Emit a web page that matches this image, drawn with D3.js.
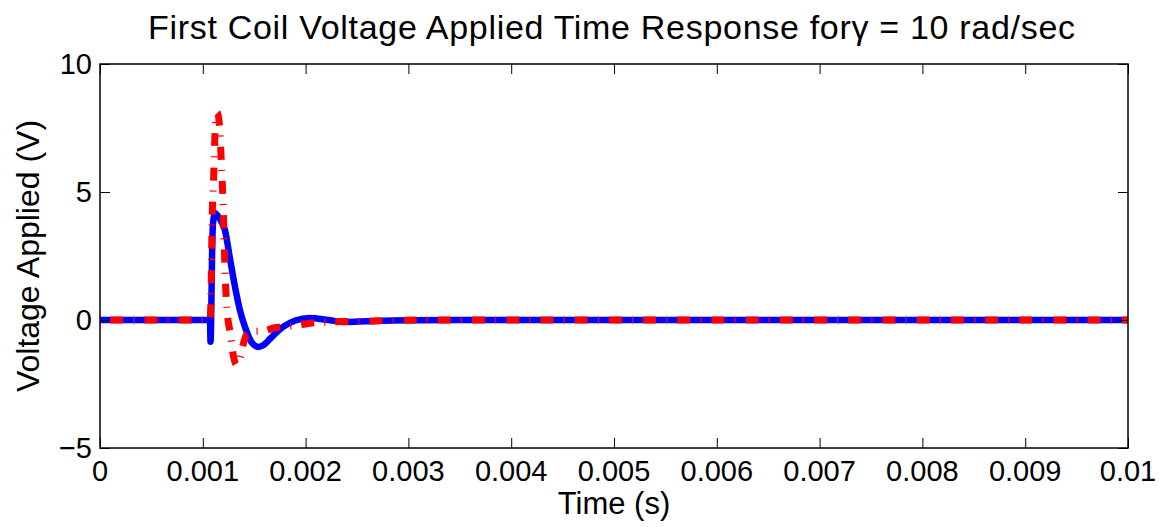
<!DOCTYPE html>
<html lang="en">
<head>
<meta charset="utf-8" />
<title>First Coil Voltage Applied Time Response</title>
<script src="https://d3js.org/d3.v7.min.js"></script>
<style>
    body, html {
        margin: 0;
        padding: 0;
        background: #fff;
        overflow: hidden;
    }
    svg text {
        font-family: "Liberation Sans", Arial, Helvetica, sans-serif;
        fill: #000;
    }
    .frame {
        fill: none;
        stroke: #000;
        stroke-width: 1.5;
    }
    .tick-line {
        stroke: #000;
        stroke-width: 1;
    }
</style>
</head>
<body>
<div id="chart"></div>
<script>
    // time (s) and voltage (V)
    const blueTime = [0, 0.00107, 0.001075, 0.00108, 0.00109, 0.0011, 0.00112, 0.00114, 0.00118,
        0.001216, 0.00126, 0.001313, 0.00136, 0.00141, 0.00148, 0.00154, 0.0016, 0.00165,
        0.00178, 0.0019, 0.00204, 0.00222, 0.00238, 0.0026, 0.003, 0.0035, 0.01];
    const blueVolt = [0, 0, -0.85, -0.3, 2.5, 3.8, 4.18, 4.1, 3.85,
        3.5, 2.5, 1.3, 0.4, -0.27, -0.9, -1.05, -0.95, -0.75,
        -0.27, -0.02, 0.08, 0.0, -0.08, -0.05, -0.01, 0, 0];

    const redTime = [0, 0.00107, 0.00108, 0.00109, 0.001105, 0.00112, 0.00114, 0.00116, 0.00118,
        0.0012, 0.00121, 0.00123, 0.00127, 0.0013, 0.00133, 0.00136, 0.00139, 0.00143,
        0.00148, 0.0016, 0.0017, 0.0019, 0.0021, 0.0025, 0.0028, 0.0032, 0.01];
    const redVolt = [0, 0, 1.0, 3.8, 5.5, 7.4, 8.1, 7.7, 6.2,
        4.2, 2.7, 0.7, -0.6, -1.45, -1.75, -1.55, -1.0, -0.55,
        -0.45, -0.42, -0.3, -0.22, -0.1, -0.05, -0.02, 0, 0];

    const xTicks = [0, 0.001, 0.002, 0.003, 0.004, 0.005, 0.006, 0.007, 0.008, 0.009, 0.01];
    const xTickLabels = ["0", "0.001", "0.002", "0.003", "0.004", "0.005", "0.006", "0.007", "0.008", "0.009", "0.01"];
    const yTicks = [-5, 0, 5, 10];
    const yTickLabels = ["\u22125", "0", "5", "10"];

    const W = 1159, H = 527;
    const margin = { top: 64, right: 31, bottom: 79, left: 100 };
    const width = W - margin.left - margin.right;
    const height = H - margin.top - margin.bottom;

    const svg = d3.select("#chart").append("svg")
        .attr("width", W)
        .attr("height", H);

    const g = svg.append("g")
        .attr("transform", "translate(" + margin.left + "," + margin.top + ")");

    const x = d3.scaleLinear().domain([0, 0.01]).range([0, width]);
    const y = d3.scaleLinear().domain([-5, 10]).range([height, 0]);

    const line = d3.line()
        .x(d => x(d[0]))
        .y(d => y(d[1]))
        .curve(d3.curveMonotoneX);

    const blue = d3.zip(blueTime, blueVolt);
    const red = d3.zip(redTime, redVolt);

    g.append("defs").append("clipPath").attr("id", "clip")
        .append("rect").attr("width", width).attr("height", height);

    const plot = g.append("g").attr("clip-path", "url(#clip)");

    plot.append("path")
        .datum(blue)
        .attr("d", line)
        .attr("fill", "none")
        .attr("stroke", "#0000ff")
        .attr("stroke-width", 6.5)
        .attr("stroke-linejoin", "round")
        .attr("stroke-linecap", "round");

    plot.append("path")
        .datum(red)
        .attr("d", line)
        .attr("fill", "none")
        .attr("stroke", "#ff0000")
        .attr("stroke-width", 7)
        .attr("stroke-dasharray", "13 10 1.2 10")
        .attr("stroke-dashoffset", 24);

    // axes drawn MATLAB-style: ticks inside, mirrored on top and right
    const tickLen = 10;
    const xAxisB = d3.axisBottom(x).tickValues(xTicks).tickSize(-tickLen).tickFormat("");
    const xAxisT = d3.axisTop(x).tickValues(xTicks).tickSize(-tickLen).tickFormat("");
    const yAxisL = d3.axisLeft(y).tickValues(yTicks).tickSize(-tickLen).tickFormat("");
    const yAxisR = d3.axisRight(y).tickValues(yTicks).tickSize(-tickLen).tickFormat("");

    [[xAxisB, "translate(0," + height + ")"], [xAxisT, null],
     [yAxisL, null], [yAxisR, "translate(" + width + ",0)"]].forEach(([ax, tr]) => {
        const a = g.append("g").call(ax);
        if (tr) a.attr("transform", tr);
        a.select(".domain").remove();
        a.selectAll(".tick line").attr("class", "tick-line");
    });

    g.append("rect")
        .attr("class", "frame")
        .attr("width", width)
        .attr("height", height);

    g.selectAll(".xlab")
        .data(xTicks)
        .enter().append("text")
        .attr("x", d => x(d))
        .attr("y", height + 33)
        .attr("text-anchor", "middle")
        .style("font-size", "29px")
        .text((d, i) => xTickLabels[i]);

    g.selectAll(".ylab")
        .data(yTicks)
        .enter().append("text")
        .attr("x", -8)
        .attr("y", d => y(d) + 10)
        .attr("text-anchor", "end")
        .style("font-size", "29px")
        .text((d, i) => yTickLabels[i]);

    svg.append("text")
        .attr("x", 614)
        .attr("y", 514)
        .attr("text-anchor", "middle")
        .style("font-size", "31px")
        .text("Time (s)");

    svg.append("text")
        .attr("transform", "translate(39,256) rotate(-90)")
        .attr("text-anchor", "middle")
        .style("font-size", "32px")
        .text("Voltage Applied (V)");

    const title = svg.append("text")
        .attr("x", 148)
        .attr("y", 39)
        .attr("textLength", 927)
        .attr("lengthAdjust", "spacing")
        .style("font-size", "34px");
    title.append("tspan").text("First Coil Voltage Applied Time Response for");
    title.append("tspan").text("\u03b3");
    title.append("tspan").text(" = 10 rad/sec");
</script>
</body>
</html>
